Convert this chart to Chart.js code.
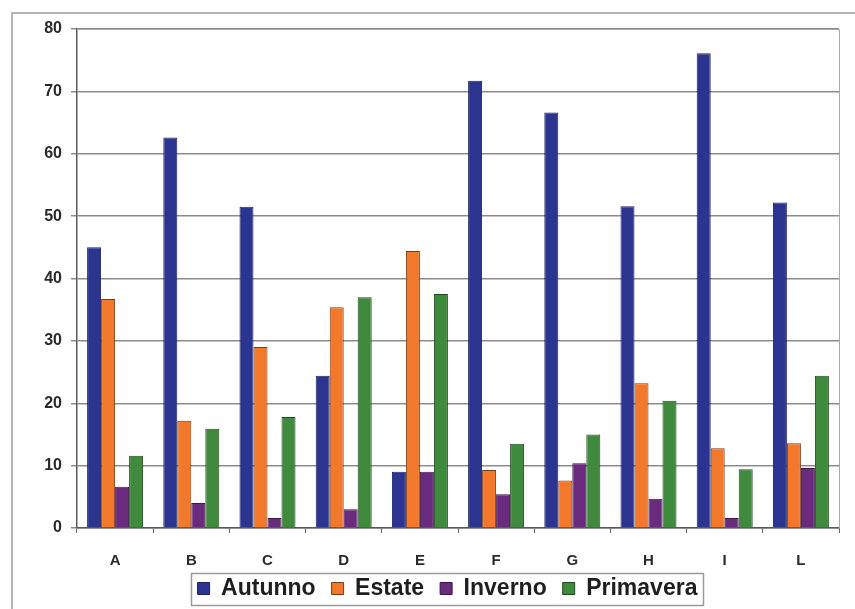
<!DOCTYPE html>
<html>
<head>
<meta charset="utf-8">
<script src="https://cdn.jsdelivr.net/npm/chart.js@4.4.1/dist/chart.umd.min.js"></script>
<style>
  html, body { margin: 0; padding: 0; background: #ffffff; }
  #wrap { width: 855px; height: 609px; position: relative; }
</style>
</head>
<body>
<div id="wrap"><canvas id="chart" width="855" height="609"></canvas></div>
<script>
// Categories and seasonal series
const categories = ['A', 'B', 'C', 'D', 'E', 'F', 'G', 'H', 'I', 'L'];
const autunno   = [45.0, 62.6, 51.5, 24.4,  9.0, 71.7, 66.6, 51.6, 76.1, 52.2];
const estate    = [36.7, 17.2, 29.0, 35.4, 44.4,  9.3,  7.6, 23.2, 12.8, 13.6];
const inverno   = [ 6.6,  4.0,  1.6,  3.0,  9.0,  5.4, 10.4,  4.7,  1.6,  9.6];
const primavera = [11.6, 15.9, 17.8, 37.0, 37.5, 13.5, 15.0, 20.4,  9.4, 24.4];
const yTicks    = [0, 10, 20, 30, 40, 50, 60, 70, 80];

const seriesNames  = ['Autunno', 'Estate', 'Inverno', 'Primavera'];
const seriesData   = [autunno, estate, inverno, primavera];
const seriesColors = ['#2b3590', '#f2782b', '#6a2b7e', '#3f8a3c'];
const seriesBorder = ['#1c2260', '#7a3a14', '#3c1648', '#1f4a1e'];

const FONT = "'Liberation Sans', Arial, sans-serif";

// Frame lines, plot-area border and the box around the legend
const framePlugin = {
  id: 'frame',
  afterLayout(chart) {
    // nudge the legend a little right and up, under the plot area
    const lg = chart.legend;
    if (!lg) return;
    lg.left += 28; lg.right += 28;
    lg.top -= 9; lg.bottom -= 9;
  },
  beforeDraw(chart) {
    const ctx = chart.ctx;
    ctx.save();
    ctx.fillStyle = '#ffffff';
    ctx.fillRect(0, 0, chart.width, chart.height);
    ctx.strokeStyle = '#b4b4b4';
    ctx.lineWidth = 2;
    ctx.beginPath();
    ctx.moveTo(12, chart.height);
    ctx.lineTo(12, 13);
    ctx.lineTo(chart.width, 13);
    ctx.stroke();
    ctx.restore();
  },
  afterDatasetsDraw(chart) {
    const a = chart.chartArea;
    const ctx = chart.ctx;
    ctx.save();
    ctx.strokeStyle = '#a8a8a8';
    ctx.lineWidth = 1;
    ctx.beginPath();
    ctx.moveTo(a.left, a.top + 0.5);
    ctx.lineTo(a.right + 0.5, a.top + 0.5);
    ctx.lineTo(a.right + 0.5, a.bottom);
    ctx.stroke();
    ctx.restore();
  },
  afterDraw(chart) {
    const lg = chart.legend;
    if (!lg || !lg.legendHitBoxes || !lg.legendHitBoxes.length) return;
    const boxes = lg.legendHitBoxes;
    let l = Infinity, r = -Infinity, t = Infinity, b = -Infinity;
    boxes.forEach(h => {
      l = Math.min(l, h.left); r = Math.max(r, h.left + h.width);
      t = Math.min(t, h.top);  b = Math.max(b, h.top + h.height);
    });
    const cy = (t + b) / 2;
    const ctx = chart.ctx;
    ctx.save();
    ctx.strokeStyle = '#9a9a9a';
    ctx.lineWidth = 1.5;
    ctx.strokeRect(Math.round(l - 7) + 0.5, Math.round(cy - 16) + 0.5,
                   Math.round(r - l + 12), 32);
    ctx.restore();
  }
};

new Chart(document.getElementById('chart'), {
  type: 'bar',
  data: {
    labels: categories,
    datasets: seriesNames.map((name, i) => ({
      label: name,
      data: seriesData[i],
      backgroundColor: seriesColors[i],
      borderColor: seriesBorder[i],
      borderWidth: 1,
      categoryPercentage: 0.735,
      barPercentage: 1.0
    }))
  },
  options: {
    responsive: false,
    animation: false,
    layout: { padding: { top: 29, right: 16, left: 0, bottom: -10 } },
    plugins: {
      tooltip: { enabled: false },
      legend: {
        position: 'bottom',
        labels: {
          font: { family: FONT, size: 23, weight: 'bold' },
          color: '#1e1e1e',
          boxWidth: 12,
          boxHeight: 12,
          padding: 16
        }
      }
    },
    scales: {
      x: {
        offset: true,
        grid: {
          offset: true,
          drawOnChartArea: false,
          tickLength: 5,
          color: '#6a6a6a'
        },
        border: { color: '#5a5a5a', width: 1.5 },
        ticks: {
          font: { family: FONT, size: 15, weight: 'bold' },
          color: '#2a2a2a',
          padding: 19
        },
        afterFit(s) { s.height = 42; }
      },
      y: {
        min: 0,
        max: 80,
        afterBuildTicks(s) { s.ticks = yTicks.map(v => ({ value: v })); },
        grid: {
          color: '#8c8c8c',
          lineWidth: 1.5,
          tickLength: 6
        },
        border: { color: '#5a5a5a', width: 1.5 },
        ticks: {
          font: { family: FONT, size: 16, weight: 'bold' },
          color: '#2a2a2a',
          padding: 9
        },
        afterFit(s) { s.width = 77; }
      }
    }
  },
  plugins: [framePlugin]
});
</script>
</body>
</html>
